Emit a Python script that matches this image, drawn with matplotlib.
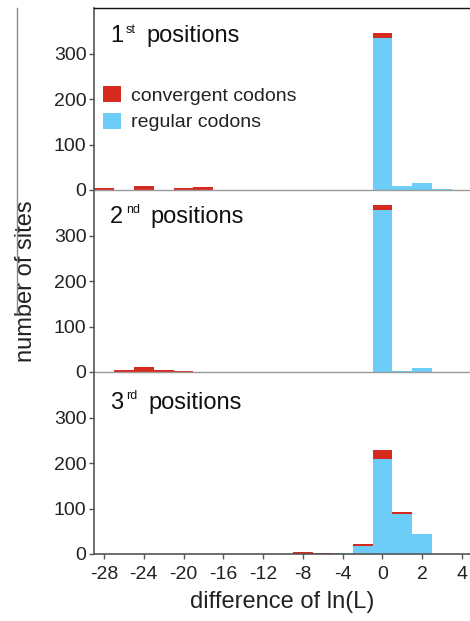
import numpy as np
import matplotlib
matplotlib.use('Agg')
import matplotlib.pyplot as plt
from matplotlib.lines import Line2D

plt.rcParams['font.family'] = ['Liberation Sans', 'DejaVu Sans']

# ── Data: histogram bins of ln(L) difference (index-based x axis) ─────────
tick_labels = [-28, -24, -20, -16, -12, -8, -4, 0, 2, 4]
n_bins = 19

pos1_regular    = [0] * 14 + [335, 9, 16, 2, 0]
pos1_convergent = [4, 0, 9, 1, 4, 7, 1, 0, 0, 0, 0, 0, 0, 0, 11, 0, 0, 0, 0]

pos2_regular    = [0] * 13 + [1, 356, 3, 8, 0, 0]
pos2_convergent = [0, 4, 11, 5, 2, 0, 0, 0, 0, 0, 0, 0, 0, 0, 12, 0, 0, 0, 0]

pos3_regular    = [0] * 12 + [2, 18, 208, 89, 44, 1, 1]
pos3_convergent = [0] * 10 + [5, 2, 0, 5, 21, 3, 0, 0, 0]

panels = [
    ('1', 'st', pos1_regular, pos1_convergent),
    ('2', 'nd', pos2_regular, pos2_convergent),
    ('3', 'rd', pos3_regular, pos3_convergent),
]

RED = '#D62A1E'
BLUE = '#6BCDF8'
SPINE = '#555555'

fig = plt.figure(figsize=(4.70, 6.21), dpi=100)
left, right = 94 / 470, 1.0
top, bottom = 1 - 8 / 621, 1 - 554 / 621
h = (top - bottom) / 3

idx = np.arange(n_bins)
label_y = [0.845, 0.853, 0.832]

axes = []
for i, (num, sup, reg, conv) in enumerate(panels):
    ax = fig.add_axes([left, top - (i + 1) * h, right - left, h])
    axes.append(ax)
    reg = np.array(reg)
    conv = np.array(conv)
    ax.bar(idx, reg, width=1.0, color=BLUE, linewidth=0, label='regular codons')
    ax.bar(idx, conv, width=1.0, bottom=reg, color=RED, linewidth=0,
           label='convergent codons')

    ax.set_xlim(-0.5, 18.4)
    ax.set_ylim(0, 400)
    ax.set_yticks([0, 100, 200, 300])
    ax.tick_params(axis='y', direction='out', length=3.5, width=1, color=SPINE,
                   labelsize=14, pad=2, labelcolor='#222222')
    ax.spines['right'].set_visible(False)
    ax.spines['left'].set_color(SPINE)
    ax.spines['left'].set_linewidth(1.2)
    ax.set_facecolor('none')

    if i == 0:
        ax.spines['top'].set_color('#111111')
        ax.spines['top'].set_linewidth(1.0)
    else:
        ax.spines['top'].set_visible(False)

    if i < 2:
        ax.spines['bottom'].set_color('#9a9a9a')
        ax.spines['bottom'].set_linewidth(1.0)
        ax.set_xticks([])
    else:
        ax.spines['bottom'].set_color(SPINE)
        ax.spines['bottom'].set_linewidth(1.2)
        ax.set_xticks(np.arange(0, n_bins, 2))
        ax.set_xticklabels([str(t) for t in tick_labels])
        ax.tick_params(axis='x', direction='out', length=3.5, width=1,
                       color=SPINE, labelsize=14, pad=5, labelcolor='#222222')
        ax.set_xlabel('difference of ln(L)', fontsize=17, color='#222222',
                      labelpad=6)

    # panel title with superscript ordinal
    t1 = ax.text(0.042, label_y[i], num, transform=ax.transAxes,
                 fontsize=17, va='center', ha='left', color='#111111')
    t2 = ax.annotate(sup, xy=(1, 1), xycoords=t1, xytext=(2, 1),
                     textcoords='offset points', fontsize=9, va='top',
                     ha='left', color='#111111')
    ax.annotate('positions', xy=(1, 0.5), xycoords=(t2, t1), xytext=(8, 0),
                textcoords='offset points', fontsize=17, va='center',
                ha='left', color='#111111')

# legend in the top panel
handles, labels = axes[0].get_legend_handles_labels()
axes[0].legend(handles[::-1], labels[::-1], loc='center left',
               bbox_to_anchor=(0.025, 0.446), frameon=False, fontsize=14,
               handlelength=0.9, handleheight=0.9, handletextpad=0.5,
               labelspacing=0.38, borderpad=0, borderaxespad=0,
               labelcolor='#222222')

axes[1].set_ylabel('number of sites', fontsize=17, color='#222222')
axes[1].yaxis.set_label_coords(-0.152, 0.5)

# thin page-border line at the far left
fig.add_artist(Line2D([17 / 470, 17 / 470], [1 - 8 / 621, 1 - 313 / 621],
                      transform=fig.transFigure, color='#8a8a8a', lw=1))

fig.savefig('out.png', dpi=100)
plt.close()
